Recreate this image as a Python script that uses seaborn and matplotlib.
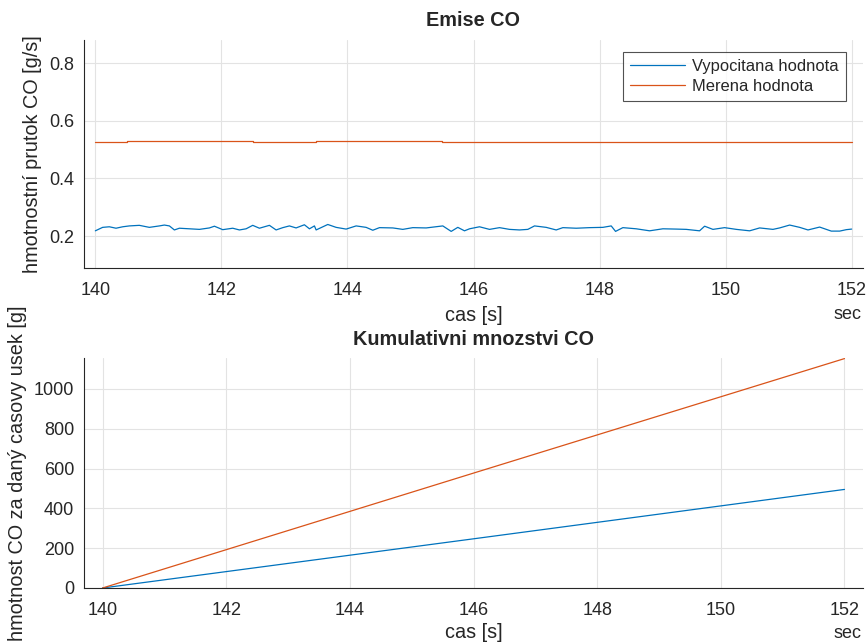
import matplotlib
matplotlib.use("Agg")
import matplotlib.pyplot as plt
import seaborn as sns
import pandas as pd

# ---------------- data ----------------
calc_time = [140.000, 140.116, 140.222, 140.328, 140.434, 140.540, 140.698, 140.857,
             141.016, 141.095, 141.175, 141.254, 141.333, 141.492, 141.651, 141.810,
             141.889, 142.021, 142.180, 142.286, 142.392, 142.497, 142.603, 142.762,
             142.868, 142.974, 143.079, 143.185, 143.317, 143.397, 143.476, 143.503,
             143.688, 143.820, 143.979, 144.138, 144.296, 144.402, 144.508, 144.720,
             144.878, 145.037, 145.249, 145.513, 145.646, 145.751, 145.857,
             145.937, 146.095, 146.254, 146.413, 146.571, 146.730, 146.862, 146.968,
             147.153, 147.312, 147.418, 147.630, 147.841, 148.053, 148.185, 148.254,
             148.370, 148.582, 148.794, 149.005, 149.217, 149.376, 149.587, 149.667,
             149.799, 149.984, 150.170, 150.381, 150.540, 150.751, 150.857, 151.016,
             151.175, 151.307, 151.492, 151.677, 151.810, 151.915, 152.000]
calc_value = [0.218, 0.230, 0.232, 0.227, 0.232, 0.235, 0.237, 0.230,
              0.235, 0.238, 0.235, 0.221, 0.227, 0.225, 0.223, 0.228,
              0.234, 0.222, 0.227, 0.221, 0.225, 0.237, 0.227, 0.237,
              0.221, 0.229, 0.235, 0.228, 0.239, 0.225, 0.235, 0.221,
              0.240, 0.230, 0.224, 0.235, 0.230, 0.220, 0.229, 0.228,
              0.223, 0.229, 0.228, 0.235, 0.216, 0.230, 0.218,
              0.225, 0.232, 0.223, 0.229, 0.223, 0.221, 0.223, 0.235,
              0.230, 0.221, 0.229, 0.227, 0.229, 0.230, 0.235, 0.216,
              0.229, 0.225, 0.218, 0.225, 0.224, 0.223, 0.218, 0.234,
              0.223, 0.229, 0.223, 0.218, 0.228, 0.223, 0.228, 0.238,
              0.230, 0.221, 0.231, 0.217, 0.217, 0.222, 0.224]

meas_time = [140, 141, 142, 143, 144, 145, 146, 147, 148, 149, 150, 151, 152]
meas_value = [0.527, 0.528, 0.5295, 0.526, 0.528, 0.528, 0.527, 0.526, 0.526,
              0.526, 0.526, 0.526, 0.525]

cum_time = [140, 146, 152]
cum_calc = [0, 247, 495]
cum_meas = [0, 577, 1152]

xticks = [140, 142, 144, 146, 148, 150, 152]

BLUE = "#0072BD"
ORANGE = "#D95319"
AX = "#262626"

sns.set_style("white")
plt.rcParams["font.family"] = ["Liberation Sans", "DejaVu Sans"]
plt.rcParams["text.color"] = AX
plt.rcParams["axes.labelcolor"] = AX

fig = plt.figure(figsize=(8.67, 6.44), dpi=100)
W, H = 867, 644

TICK_FS = 13
LABEL_FS = 14.3


def frac_axes(left, top, right, bottom):
    return fig.add_axes([left / W, 1 - bottom / H, (right - left) / W, (bottom - top) / H])


def style(ax):
    for s in ["top", "right"]:
        ax.spines[s].set_visible(False)
    for s in ["left", "bottom"]:
        ax.spines[s].set_color(AX)
        ax.spines[s].set_linewidth(0.8)
    ax.tick_params(direction="in", length=6, width=0.8, color=AX,
                   labelcolor=AX, labelsize=TICK_FS)
    ax.tick_params(axis="x", pad=10)
    ax.tick_params(axis="y", pad=7)
    ax.grid(True, color="#E3E3E3", linewidth=0.8)
    ax.set_axisbelow(True)


# ---------------- top ----------------
ax1 = frac_axes(84, 40, 863, 268)
df_calc = pd.DataFrame({"t": calc_time, "v": calc_value})
df_meas = pd.DataFrame({"t": meas_time, "v": meas_value})
sns.lineplot(data=df_calc, x="t", y="v", ax=ax1, color=BLUE, linewidth=0.9,
             label="Vypocitana hodnota")
sns.lineplot(data=df_meas, x="t", y="v", ax=ax1, color=ORANGE, linewidth=0.9,
             drawstyle="steps-mid", label="Merena hodnota")
ax1.set_xlim(139.82, 152.18)
ax1.set_ylim(0.089, 0.88)
ax1.set_xticks(xticks)
ax1.set_yticks([0.2, 0.4, 0.6, 0.8])
ax1.set_yticklabels(["0.2", "0.4", "0.6", "0.8"])
style(ax1)
ax1.set_title("Emise CO", fontsize=LABEL_FS, fontweight="bold", pad=10)
ax1.set_xlabel("cas [s]", fontsize=LABEL_FS, labelpad=5)
ax1.set_ylabel("hmotnostní prutok CO [g/s]", fontsize=LABEL_FS, labelpad=5)
leg = ax1.legend(loc="upper right", bbox_to_anchor=(0.978, 0.947), borderaxespad=0,
                 fontsize=11.9, frameon=True, fancybox=False,
                 handlelength=3.3, borderpad=0.42, labelspacing=0.3, handletextpad=0.45)
leg.get_frame().set_edgecolor(AX)
leg.get_frame().set_linewidth(0.8)
fig.text(848 / W, 1 - 315 / H, "sec", fontsize=TICK_FS, ha="center", va="center", color=AX)

# ---------------- bottom ----------------
ax2 = frac_axes(84, 358, 863, 588)
df_cum = pd.DataFrame({"t": cum_time + cum_time,
                       "v": cum_calc + cum_meas,
                       "s": ["Vypocitana hodnota"] * 3 + ["Merena hodnota"] * 3})
sns.lineplot(data=df_cum, x="t", y="v", hue="s", ax=ax2,
             palette={"Vypocitana hodnota": BLUE, "Merena hodnota": ORANGE},
             linewidth=0.9, legend=False)
ax2.set_xlim(139.7, 152.3)
ax2.set_ylim(0, 1155)
ax2.set_xticks(xticks)
ax2.set_yticks([0, 200, 400, 600, 800, 1000])
style(ax2)
ax2.set_title("Kumulativni mnozstvi CO", fontsize=LABEL_FS, fontweight="bold", pad=9)
ax2.set_xlabel("cas [s]", fontsize=LABEL_FS, labelpad=3)
ax2.set_ylabel("hmotnost CO za daný casovy usek [g]", fontsize=LABEL_FS, labelpad=5)
fig.text(848 / W, 1 - 634 / H, "sec", fontsize=TICK_FS, ha="center", va="center", color=AX)

fig.savefig("out.png", dpi=100)
